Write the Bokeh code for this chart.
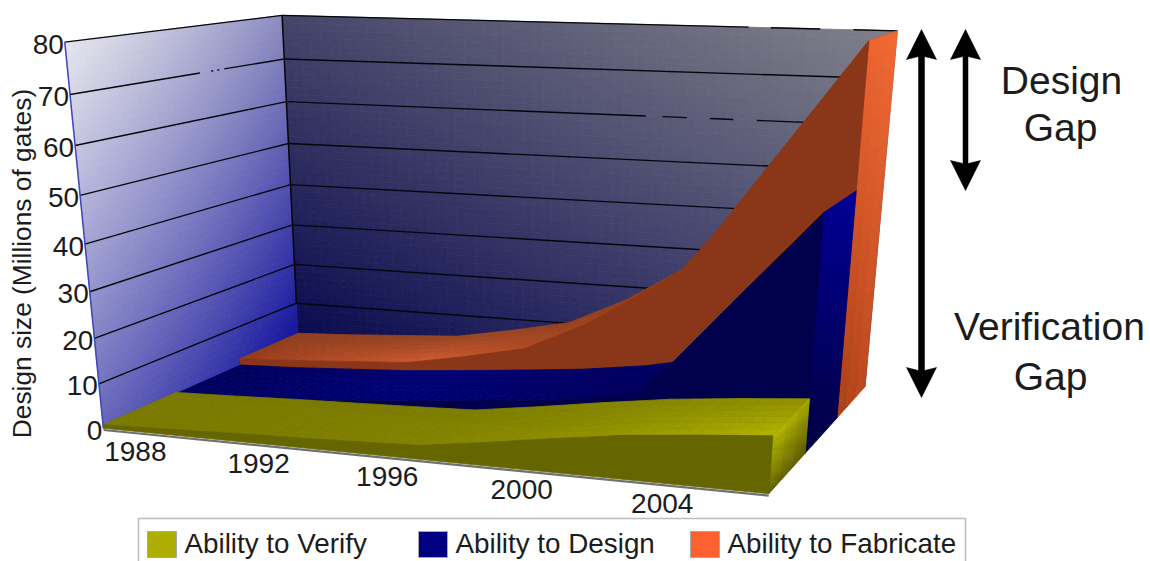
import numpy as np
from bokeh.core.properties import value
from bokeh.embed import file_html
from bokeh.models import ColumnDataSource, Range1d
from bokeh.plotting import figure
from bokeh.resources import INLINE

# Design sizes in millions of gates
years = [1988, 1990, 1992, 1994, 1996, 1998, 2000, 2002, 2003, 2004, 2006, 2008]
verify = [0.8, 1.2, 1.7, 2.1, 2.5, 3.0, 5.0, 7.2, 8.2, 9.2, 10.6, 11.8]
design = [0.5, 1.0, 1.8, 2.6, 3.8, 5.1, 6.5, 8.5, 10.0, 17.0, 33.5, 49.8]
fabricate = [2.1, 2.8, 3.7, 4.6, 7.2, 10.2, 17.0, 26.0, 31.0, 40.0, 60.0, 80.0]

value_ticks = [0, 10, 20, 30, 40, 50, 60, 70, 80]
year_ticks = [1988, 1992, 1996, 2000, 2004]
legend_names = ["Ability to Verify", "Ability to Design", "Ability to Fabricate"]
y_title = "Design size (Millions of gates)"

YEAR0, YEAR1, VMAX = 1988, 2008, 80
FONT = value("Liberation Sans")
INK = "#1c1c1c"

# Camera: solved from where the corners of the plot box land on the page.
box = [(0, 0, 0), (0, 1, 0), (0, 0, 1), (0, 1, 1), (1, 0, 1), (1, 1, 1), (1, 0, 0),
       (1, 0, 1 / 3), (1, 0, 2 / 3), (0, .5, 0), (0, .5, 1)]
page = [(103, 428), (64, 43), (298, 341), (282, 15), (864, 388), (897, 30), (770, 493),
        (803, 452), (837, 417), (84, 243), (290, 183)]
rows = []
for (X, Y, Z), (u, v) in zip(box, page):
    rows.append([X, Y, Z, 1, 0, 0, 0, 0, -u * X, -u * Y, -u * Z, -u])
    rows.append([0, 0, 0, 0, X, Y, Z, 1, -v * X, -v * Y, -v * Z, -v])
CAM = np.linalg.svd(np.array(rows, float))[2][-1].reshape(3, 4)


def project(year, val, depth):
    year, val, depth = np.broadcast_arrays(np.asarray(year, float), np.asarray(val, float), np.asarray(depth, float))
    pts = np.stack([(year - YEAR0) / (YEAR1 - YEAR0), val / VMAX, depth, np.ones_like(year)])
    h = CAM @ pts.reshape(4, -1)
    return h[0] / h[2], h[1] / h[2]


def rgb(c):
    return np.array([int(c[i:i + 2], 16) for i in (1, 3, 5)], float)


def blend4(c00, c10, c01, c11, s, t):
    a = rgb(c00) * (1 - s) + rgb(c10) * s
    b = rgb(c01) * (1 - s) + rgb(c11) * s
    m = a * (1 - t) + b * t
    return "#%02x%02x%02x" % tuple(int(round(x)) for x in m)


p = figure(width=1150, height=561, x_range=Range1d(0, 1150), y_range=Range1d(561, 0),
           output_backend="svg", toolbar_location=None, min_border=0,
           background_fill_color="white", border_fill_color="white", outline_line_color=None)
p.axis.visible = False
p.grid.visible = False


def draw_cells(cells):
    xs, ys, cols = [], [], []
    for (yr, vl, dp, col) in cells:
        x, y = project(yr, vl, dp)
        xs.append(list(x))
        ys.append(list(y))
        cols.append(col)
    p.patches("xs", "ys", source=ColumnDataSource(dict(xs=xs, ys=ys, c=cols)),
              fill_color="c", line_color="c", line_width=0.8)


# Walls, shaded as fine grids of cells
span = np.linspace(YEAR0, YEAR1, 61)
rise = np.linspace(0, VMAX, 49)
deep = np.linspace(0, 1, 41)
cells = []
for i in range(len(span) - 1):
    for j in range(len(rise) - 1):
        s, t = (i + .5) / (len(span) - 1), (j + .5) / (len(rise) - 1)
        cells.append(([span[i], span[i + 1], span[i + 1], span[i]], [rise[j], rise[j], rise[j + 1], rise[j + 1]], 1,
                      blend4("#08084e", "#3a3a6c", "#44446a", "#80808a", s, t)))
for i in range(len(deep) - 1):
    for j in range(len(rise) - 1):
        s, t = (i + .5) / (len(deep) - 1), (j + .5) / (len(rise) - 1)
        cells.append(([YEAR0] * 4, [rise[j], rise[j], rise[j + 1], rise[j + 1]], [deep[i], deep[i + 1], deep[i + 1], deep[i]],
                      blend4("#6464ba", "#10109c", "#e6e6ee", "#8c8cc0", s, t)))
draw_cells(cells)

# Grid lines on both walls, a few of them broken where the renderer dropped pixels
left_breaks = {70: [(.56, .615), (.625, .645), (.655, .68)]}
back_breaks = {60: [(.62, .647), (.686, .723), (.76, .797)], 80: [(.776, .81), (.885, .935)]}


def pieces(breaks):
    out, pos = [], 0.0
    for a, b in breaks:
        out.append((pos, a))
        pos = b
    out.append((pos, 1.0))
    return out


gx, gy = [], []
for tick in value_ticks[1:]:
    for a, b in pieces(left_breaks.get(tick, [])):
        x, y = project(YEAR0, tick, [a, b])
        gx.append(list(x)); gy.append(list(y))
    for a, b in pieces(back_breaks.get(tick, [])):
        x, y = project([YEAR0 + a * 20, YEAR0 + b * 20], tick, 1)
        gx.append(list(x)); gy.append(list(y))
p.multi_line(gx, gy, line_color="#05050a", line_width=1.4)
x, y = project(YEAR0, [10, VMAX], 1)
p.line(x, y, line_color="#05050a", line_width=1.6)

# Value axis line along the open edge of the left wall
x, y = project(YEAR0, [0, VMAX], 0)
p.line(x, y, line_color="#4444b8", line_width=1.5)


def draw_ribbon(vals, z0, z1, top, front, end):
    """Top surface, end face and front face of one series, far parts first."""
    fine = np.union1d(np.linspace(YEAR0, YEAR1, 61), years)
    vfine = np.interp(fine, years, vals)
    nz = 6
    cells = []
    for i in range(len(fine) - 1):
        s = (fine[i] + fine[i + 1] - 2 * YEAR0) / 2 / (YEAR1 - YEAR0)
        for k in range(nz):
            d0, d1 = z0 + (z1 - z0) * k / nz, z0 + (z1 - z0) * (k + 1) / nz
            cells.append(([fine[i], fine[i + 1], fine[i + 1], fine[i]], [vfine[i], vfine[i + 1], vfine[i + 1], vfine[i]],
                          [d0, d0, d1, d1], top(s, (k + .5) / nz)))
    # end face graded from the floor to the top edge
    h = np.linspace(0, vals[-1], 25)
    for j in range(len(h) - 1):
        t = (j + .5) / (len(h) - 1)
        for k in range(3):
            d0, d1 = z0 + (z1 - z0) * k / 3, z0 + (z1 - z0) * (k + 1) / 3
            cells.append(([YEAR1] * 4, [h[j], h[j], h[j + 1], h[j + 1]], [d0, d1, d1, d0], end((k + .5) / 3, t)))
    draw_cells(cells)
    fx, fy = project(years, vals, z0)
    bx, by = project([YEAR1, YEAR0], 0, z0)
    p.patch(np.r_[fx, bx], np.r_[fy, by], fill_color=front, line_color=front, line_width=0.8)


def orange_top(s, t):
    glow = float(np.clip(1 - abs(s - .33) / .33, 0, 1))
    base = blend4("#9a3c1a", "#d05a2e", "#9a3c1a", "#d05a2e", glow, 0)
    return blend4(base, "#8e4222", base, "#8e4222", t * .85, 0)


def navy_top(s, t):
    return blend4("#00005c", "#000074", "#000050", "#000050", min(s * 3, 1), max(0, (s - .4) / .6))


def yellow_top(s, t):
    return blend4("#7a7a00", "#909000", "#8e8e00", "#b4b400", s ** 2, (1 - t) * s ** 3)


draw_ribbon(fabricate, 2 / 3, 1, orange_top, "#8a3618",
            lambda s, t: blend4("#a84018", "#c04a20", "#ee6430", "#f06a34", s, t))
draw_ribbon(design, 1 / 3, 2 / 3, navy_top, "#00004c",
            lambda s, t: blend4("#000040", "#00004c", "#00008c", "#000098", s, t))
draw_ribbon(verify, 0, 1 / 3, yellow_top, "#666600",
            lambda s, t: blend4("#606000", "#5c5c00", "#bcbc00", "#a8a800", s, t))

# Front edge of the floor
x, y = project([YEAR0, YEAR1], -0.4, 0)
p.line(x, y, line_color="#707070", line_width=2.2)

# Tick labels
x, y = project(YEAR0, value_ticks, 0)
p.text(x - 1, y + 2, text=[str(t) for t in value_ticks], text_font=FONT, text_font_size="28px",
       text_align="right", text_baseline="middle", text_color=INK)
x, y = project(np.array(year_ticks) + 1.15, 0, 0)
p.text(x - 2.5, y + 20, text=[str(t) for t in year_ticks], text_font=FONT, text_font_size="28px",
       text_align="center", text_baseline="middle", text_color=INK)
p.text([21], [263], text=[y_title], text_font=FONT, text_font_size="26.3px", angle=np.pi / 2,
       text_align="center", text_baseline="middle", text_color=INK)


# Double-headed arrows marking the two gaps
def gap_arrow(xc, y0, y1, half=15, head=30, shaft=3):
    xs = [xc, xc + half, xc + shaft, xc + shaft, xc + half, xc, xc - half, xc - shaft, xc - shaft, xc - half]
    ys = [y0, y0 + head, y0 + head - 3, y1 - head + 3, y1 - head, y1, y1 - head, y1 - head + 3, y0 + head - 3, y0 + head]
    p.patch(xs, ys, fill_color="black", line_color="black", line_width=0.5)


gap_arrow(921, 29, 397)
gap_arrow(965, 29, 190, shaft=2.5)
p.text([1061, 1060, 1049, 1050], [80, 127, 326, 376], text=["Design", "Gap", "Verification", "Gap"],
       text_font=FONT, text_font_size="39px", text_align="center", text_baseline="middle", text_color=INK)

# Legend, running off the bottom of the page
p.line([138, 138, 965, 965], [575, 518, 518, 575], line_color="#bdbdbd", line_width=1.5)
swatch_left = [147, 418, 690]
swatch_colors = ["#aeae00", "#000080", "#ff6030"]
p.quad(left=swatch_left, right=[v + 29 for v in swatch_left], top=[531] * 3, bottom=[557] * 3,
       fill_color=swatch_colors, line_color="#a8a8a8", line_width=1)
p.text([v + 37 for v in swatch_left], [543] * 3, text=legend_names, text_font=FONT, text_font_size="27.8px",
       text_align="left", text_baseline="middle", text_color=INK)

open("out.html", "w").write(file_html(p, INLINE))
